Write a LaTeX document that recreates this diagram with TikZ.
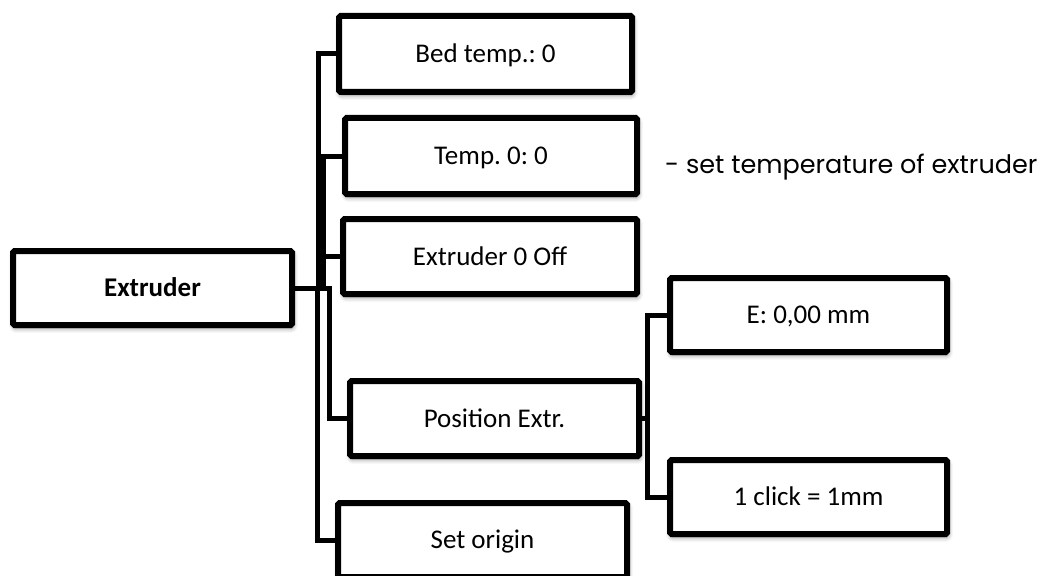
\documentclass[tikz,border=0pt]{standalone}
\usepackage{fontspec}
\setmainfont{Carlito}
\newfontfamily\notefont{Poppins}
\usetikzlibrary{shadows.blur}

\tikzset{
  menubox/.style={draw=black, line width=6pt, fill=white, rounded corners=1.5pt,
    inner sep=0pt, font=\fontsize{27}{32}\selectfont,
    text height=17.4pt, text depth=0pt,
    blur shadow={shadow xshift=1pt, shadow yshift=-3pt, shadow blur radius=5pt,
      shadow opacity=50}},
  link/.style={draw=black, line width=5pt},
  note/.style={font=\notefont\fontsize{25.5}{30}\selectfont, inner sep=0pt, anchor=base west}
}

\begin{document}
\frenchspacing
\begin{tikzpicture}[x=1pt, y=-1pt]
  \useasboundingbox (0,0) rectangle (1043,575);

  % root of the menu
  \node[menubox, minimum width=279, minimum height=74] (ext) at (152.5,288) {\bfseries Extruder};

  % first level entries
  \node[menubox, minimum width=293, minimum height=76] (bed) at (485.5,54) {Bed temp.: 0};
  \node[menubox, minimum width=292, minimum height=76] (temp) at (491,156) {Temp. 0: 0};
  \node[menubox, minimum width=294, minimum height=75] (off) at (490,256.5) {Extruder 0 Off};
  \node[menubox, minimum width=289, minimum height=75] (pos) at (494.5,418.5) {Position Extr.};
  \node[menubox, minimum width=289, minimum height=74] (orig) at (482.5,540) {Set origin};

  % second level entries
  \node[menubox, minimum width=277, minimum height=74] (epos) at (808.5,315) {E: 0,00 mm};
  \node[menubox, minimum width=277, minimum height=74] (click) at (808.5,497) {1 click = 1mm};

  % remark
  \node[note] (rem) at (665,173) {- set temperature of extruder};

  % elbow connectors
  \draw[link] (ext.east) -- ++(23.5,0) |- (bed.west);
  \draw[link] (ext.east) -- ++(28,0) |- (temp.west);
  \draw[link] (ext.east) -- ++(28,0) |- (off.west);
  \draw[link] (ext.east) -- ++(34,0) |- (pos.west);
  \draw[link] (ext.east) -- ++(22.5,0) |- (orig.west);
  \draw[link] (pos.east) -- ++(5.5,0) |- (epos.west);
  \draw[link] (pos.east) -- ++(5.5,0) |- (click.west);
\end{tikzpicture}
\end{document}
